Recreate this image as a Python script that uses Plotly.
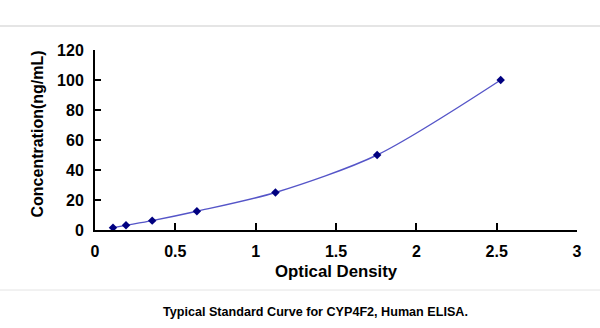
import plotly.graph_objects as go

od = [0.112, 0.193, 0.356, 0.634, 1.123, 1.756, 2.525]
conc = [1.56, 3.12, 6.25, 12.5, 25, 50, 100]
x_ticks = [0, 0.5, 1, 1.5, 2, 2.5, 3]
x_tick_labels = ["0", "0.5", "1", "1.5", "2", "2.5", "3"]
y_ticks = [0, 20, 40, 60, 80, 100, 120]

W, H = 600, 328
L, R, T, B = 95, 23, 50, 98
pw, ph = W - L - R, H - T - B

def px(xp):
    return (xp - L) / pw

def py(yp):
    return (H - B - yp) / ph

FONT = "Liberation Sans, Arial, sans-serif"

fig = go.Figure()
fig.add_trace(go.Scatter(
    x=od, y=conc, mode="lines+markers",
    line=dict(color="#5555c8", width=1.4, shape="spline", smoothing=0.8),
    marker=dict(symbol="diamond", size=6.5, color="#000080"),
    showlegend=False,
))

fig.update_layout(
    width=W, height=H,
    margin=dict(l=L, r=R, t=T, b=B),
    paper_bgcolor="white", plot_bgcolor="white",
    font=dict(family=FONT, color="black"),
    xaxis=dict(
        range=[0, 3], tickvals=x_ticks, ticktext=x_tick_labels,
        showgrid=False, zeroline=False, showline=True, linecolor="black", linewidth=2,
        ticks="inside", ticklen=7, tickwidth=2, tickcolor="black",
        tickfont=dict(family=FONT, size=16, color="black", weight="bold"),
        ticklabelstandoff=6,
    ),
    yaxis=dict(
        range=[0, 120], tickvals=y_ticks,
        showgrid=False, zeroline=False, showline=True, linecolor="black", linewidth=2,
        ticks="inside", ticklen=6, tickwidth=2, tickcolor="black",
        tickfont=dict(family=FONT, size=16, color="black", weight="bold"),
        ticklabelstandoff=6,
    ),
    shapes=[
        dict(type="line", xref="paper", yref="paper", x0=px(0), x1=px(W), y0=py(26), y1=py(26),
             line=dict(color="#dcdcdc", width=1.5)),
        dict(type="line", xref="paper", yref="paper", x0=px(0), x1=px(W), y0=py(290), y1=py(290),
             line=dict(color="#e4e4e4", width=1)),
    ],
    annotations=[
        dict(text="<b>Concentration(ng/mL)</b>", xref="paper", yref="paper",
             x=px(37), y=py(134.5), textangle=-90, showarrow=False,
             xanchor="center", yanchor="middle", font=dict(family=FONT, size=16, color="black")),
        dict(text="<b>Optical Density</b>", xref="paper", yref="paper",
             x=px(336), y=py(271.5), showarrow=False,
             xanchor="center", yanchor="middle", font=dict(family=FONT, size=16.8, color="black")),
        dict(text="<b>Typical Standard Curve for CYP4F2, Human ELISA.</b>", xref="paper", yref="paper",
             x=px(315.5), y=py(312), showarrow=False,
             xanchor="center", yanchor="middle", font=dict(family=FONT, size=12.6, color="black")),
    ],
)

fig.write_html("out.html")
